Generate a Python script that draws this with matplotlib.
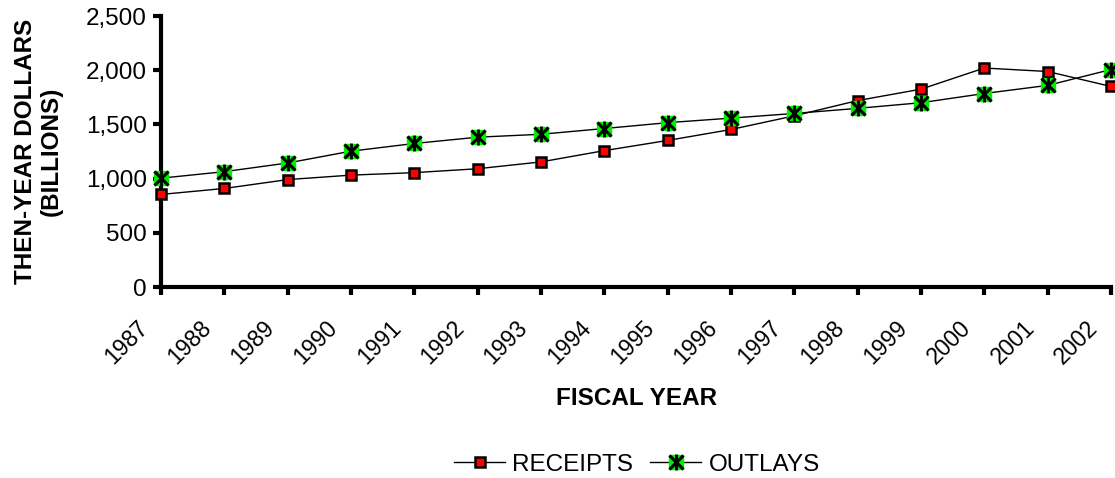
import matplotlib.pyplot as plt
import matplotlib.transforms as mtransforms
from matplotlib.ticker import FuncFormatter

plt.rcParams['font.family'] = ['Liberation Sans', 'DejaVu Sans']

# Fiscal years and values (billions, then-year dollars)
years = [1987, 1988, 1989, 1990, 1991, 1992, 1993, 1994,
         1995, 1996, 1997, 1998, 1999, 2000, 2001, 2002]
receipts = [854, 909, 991, 1032, 1055, 1091, 1154, 1258,
            1352, 1453, 1579, 1720, 1825, 2020, 1988, 1850]
outlays = [1004, 1064, 1144, 1253, 1324, 1382, 1409, 1462,
           1516, 1558, 1601, 1648, 1700, 1785, 1860, 2006]

fs = 17.5
fig = plt.figure(figsize=(11.15, 4.78), dpi=100)
ax = fig.add_axes([161 / 1115, 1 - 287 / 478, 950 / 1115, 271 / 478])

l1, = ax.plot(years, receipts, color='black', lw=1, marker='s', ms=7,
              mfc='red', mec='black', mew=1.8, clip_on=False, zorder=3)
ax.plot(years, outlays, color='black', lw=1, clip_on=False, zorder=3)
g1, = ax.plot(years, outlays, ls='none', marker='s', ms=10, mfc='#00ee00',
              mec='#00ee00', clip_on=False, zorder=4)
x1, = ax.plot(years, outlays, ls='none', marker='x', ms=10,
              mec='black', mew=2.2, clip_on=False, zorder=5)
v1, = ax.plot(years, outlays, ls='none', marker='|', ms=12,
              mec='black', mew=2, clip_on=False, zorder=5)
g2, = ax.plot([], [], color='black', lw=1, marker='s', ms=10,
              mfc='#00ee00', mec='#00ee00')

ax.set_xlim(1987, 2002)
ax.set_ylim(0, 2500)
ax.set_xticks(years)
ax.set_xticklabels([str(y) for y in years], rotation=45, ha='right',
                   rotation_mode='anchor', fontsize=16.5)
ax.set_yticks([0, 500, 1000, 1500, 2000, 2500])
ax.yaxis.set_major_formatter(FuncFormatter(lambda v, p: f'{int(v):,}'))
ax.tick_params(axis='y', labelsize=fs)
ax.tick_params(direction='out', width=3, length=6, pad=4)

# shift rotated year labels down-left like the original
offset = mtransforms.ScaledTranslation(-0.25, -0.15, fig.dpi_scale_trans)
for lab in ax.get_xticklabels():
    lab.set_transform(lab.get_transform() + offset)

for side in ['top', 'right']:
    ax.spines[side].set_visible(False)
for side in ['left', 'bottom']:
    ax.spines[side].set_linewidth(3)

ax.set_xlabel('FISCAL YEAR', fontsize=fs, fontweight='bold')
ax.xaxis.set_label_coords(0.5, -0.37)
ax.set_ylabel('THEN-YEAR DOLLARS\n(BILLIONS)', fontsize=fs,
              fontweight='bold')
ax.yaxis.set_label_coords(-0.103, 0.5)

fig.legend([l1, (g2, x1, v1)], ['RECEIPTS', 'OUTLAYS'], loc='center',
           bbox_to_anchor=(637 / 1115, 1 - 465 / 478), ncol=2, frameon=False,
           fontsize=fs, handlelength=2.1, handletextpad=0.3, columnspacing=0.7)

fig.savefig('out.png', dpi=100)
